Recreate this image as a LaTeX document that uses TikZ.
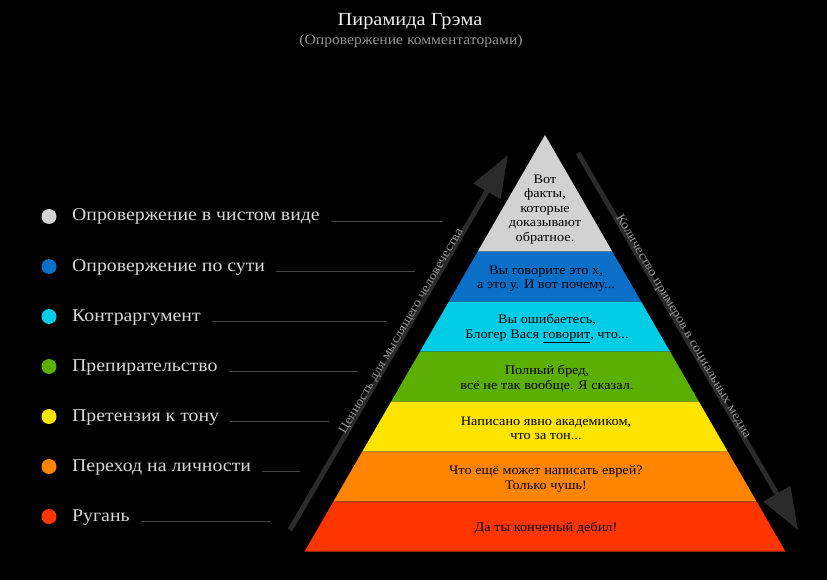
\documentclass[tikz,border=0pt]{standalone}
\usepackage{fontspec}
\setmainfont{Liberation Serif}[FakeStretch=1.1]
\usetikzlibrary{arrows.meta,calc}
\definecolor{lgray}{HTML}{D2D2D2}
\definecolor{lblue}{HTML}{0A6FC6}
\definecolor{lcyan}{HTML}{00CCE6}
\definecolor{lgreen}{HTML}{5AAF00}
\definecolor{lyellow}{HTML}{FFE400}
\definecolor{lorange}{HTML}{FF8500}
\definecolor{lred}{HTML}{FF3600}
\definecolor{arrowgray}{HTML}{2B2B2B}
\definecolor{legtext}{HTML}{D6D6D6}
\definecolor{legline}{HTML}{444444}
\tikzset{
  legdot/.style={circle,inner sep=0pt,minimum size=15pt},
  legtxt/.style={anchor=base west,inner sep=0pt,text=legtext,font=\fontsize{18}{20}\selectfont},
  legln/.style={draw=legline,line width=0.9pt},
  laytxt/.style={align=center,inner sep=0pt,text=black,font=\fontsize{13}{14.6}\selectfont},
  bigarrow/.style={draw=arrowgray,line width=5pt,-{Triangle[length=42pt,width=30pt]}},
  arrtxt/.style={text=gray!85,inner sep=0pt,font=\fontsize{12.8}{14}\selectfont}
}
\begin{document}
\begin{tikzpicture}[x=1pt,y=-1pt]
\path[fill=black] (0,0) rectangle (827,580);
\useasboundingbox (0,0) rectangle (827,580);
% title
\node[text=white!93!black,font=\fontsize{18.5}{21}\selectfont] (title) at (410,21) {Пирамида Грэма};
\node[text=gray!85,font=\fontsize{14.2}{16}\selectfont] (subtitle) at (411,41) {(Опровержение комментаторами)};
% pyramid layers
\fill[lgray]   (545,135) -- (612.4,251.7) -- (477.6,251.7) -- cycle;
\fill[lblue]   (477.6,251.7) -- (612.4,251.7) -- (641.2,301.7) -- (448.8,301.7) -- cycle;
\fill[lcyan]   (448.8,301.7) -- (641.2,301.7) -- (670.1,351.7) -- (419.9,351.7) -- cycle;
\fill[lgreen]  (419.9,351.7) -- (670.1,351.7) -- (698.9,401.7) -- (391.1,401.7) -- cycle;
\fill[lyellow] (391.1,401.7) -- (698.9,401.7) -- (727.8,451.7) -- (362.2,451.7) -- cycle;
\fill[lorange] (362.2,451.7) -- (727.8,451.7) -- (756.7,501.7) -- (333.3,501.7) -- cycle;
\fill[lred]    (333.3,501.7) -- (756.7,501.7) -- (785.5,551.7) -- (304.5,551.7) -- cycle;
% layer texts
\node[laytxt] (t1) at (545,209.5) {Вот\\факты,\\которые\\доказывают\\обратное.};
\node[laytxt] (t2) at (546,278.5) {Вы говорите это х,\\а это у. И вот почему...};
\node[laytxt] (t3) at (547,328.5) {Вы ошибаетесь,\\Блогер Вася \underline{говорит}, что...};
\node[laytxt] (t4) at (547,378.5) {Полный бред,\\всё не так вообще. Я сказал.};
\node[laytxt] (t5) at (546,428.5) {Написано явно академиком,\\что за тон...};
\node[laytxt] (t6) at (546,479) {Что ещё может написать еврей?\\Только чушь!};
\node[laytxt] (t7) at (546,528) {Да ты конченый дебил!};
% arrows
\coordinate (la1) at (290,530);
\coordinate (la2) at (508,155);
\coordinate (ra1) at (578,153);
\coordinate (ra2) at (798,530);
\draw[bigarrow] (la1) -- (la2);
\draw[bigarrow] (ra1) -- (ra2);
\node[arrtxt,rotate=59.83] (lat) at ($(la1)!0.525!(la2)+(-2.8,-1.6)$) {Ценность для мыслящего человечества};
\node[arrtxt,rotate=-59.73] (rat) at ($(ra1)!0.465!(ra2)+(2.8,-1.6)$) {Количество примеров в социальных медиа};
% legend
\node[legdot,fill=lgray]   (d1) at (49,216.5) {};
\node[legdot,fill=lblue]   (d2) at (49,266.5) {};
\node[legdot,fill=lcyan]   (d3) at (49,316.5) {};
\node[legdot,fill=lgreen]  (d4) at (49,366.5) {};
\node[legdot,fill=lyellow] (d5) at (49,416.5) {};
\node[legdot,fill=lorange] (d6) at (49,466.5) {};
\node[legdot,fill=lred]    (d7) at (49,516.5) {};
\node[legtxt] (g1) at (72,221) {Опровержение в чистом виде};
\node[legtxt] (g2) at (72,271) {Опровержение по сути};
\node[legtxt] (g3) at (72,321) {Контраргумент};
\node[legtxt] (g4) at (72,371) {Препирательство};
\node[legtxt] (g5) at (72,421) {Претензия к тону};
\node[legtxt] (g6) at (72,471) {Переход на личности};
\node[legtxt] (g7) at (72,521) {Ругань};
\coordinate (e1) at (443,221);
\coordinate (e2) at (415,271);
\coordinate (e3) at (387,321);
\coordinate (e4) at (358,371);
\coordinate (e5) at (329,421);
\coordinate (e6) at (300,471);
\coordinate (e7) at (271,521);
\foreach \i in {1,...,7}{
  \draw[legln] ([xshift=11pt]g\i.base east) -- (e\i);
}
\end{tikzpicture}
\end{document}
